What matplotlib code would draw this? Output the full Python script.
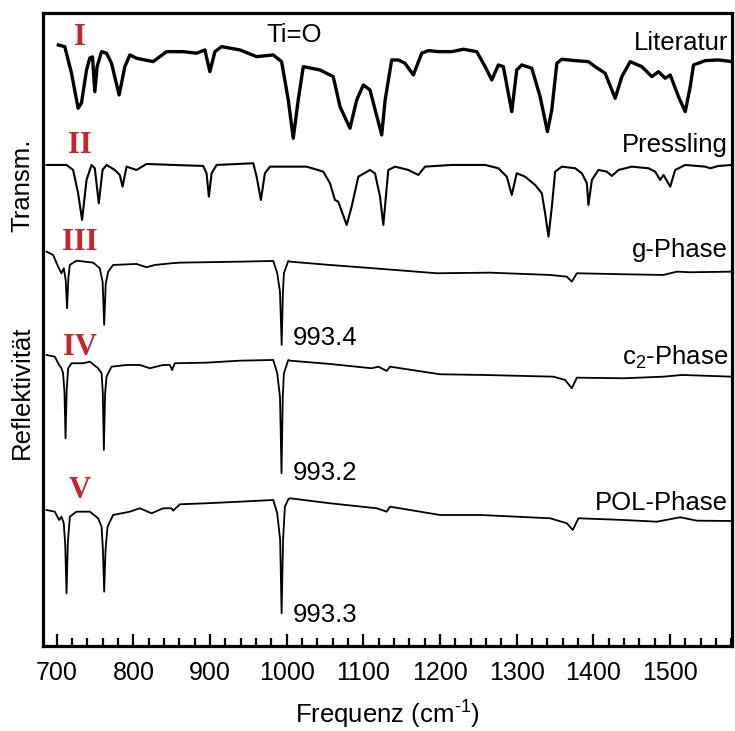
import numpy as np
import matplotlib
matplotlib.use("Agg")
import matplotlib.pyplot as plt
from matplotlib.ticker import MultipleLocator

plt.rcParams['font.family'] = ['Liberation Sans', 'DejaVu Sans']
plt.rcParams['mathtext.default'] = 'regular'

# spectra: wavenumber (cm-1) and intensity relative to each trace's level
lit_x = [702, 710.4, 719.2, 727.8, 732.2, 738.8, 743.1, 746.6, 749.6, 752.6, 758.4, 764.9, 771.4,
         781.3, 788.8, 795.3, 804, 825.7, 843.2, 864.9, 882.4, 893.2, 899.7, 906.3, 915, 938.9,
         960.7, 982.4, 993.3, 1002, 1008.5, 1015, 1021.6, 1043.3, 1060.7, 1069.5, 1082.5, 1091.3,
         1099.9, 1108.6, 1123.9, 1128.4, 1136.9, 1145.6, 1154.3, 1165.2, 1176.1, 1184.7, 1197.8,
         1215.3, 1230.4, 1247.9, 1258.8, 1267.5, 1276.1, 1282.6, 1293.6, 1300.1, 1306.7, 1319.7,
         1330.6, 1340.1, 1345.8, 1352.4, 1358.9, 1376.3, 1393.6, 1402.4, 1415.4, 1428.5, 1437.2,
         1448.1, 1463.3, 1476.4, 1485, 1493.7, 1500.3, 1511.1, 1519.9, 1526.4, 1530.7, 1546,
         1563.3, 1580.8]
lit_y = [5, 3.3, -23.3, -58.3, -53, -20, -8, -7, -41.7, -16.7, -1.7, -3.3, -13.3,
         -45, -16.7, -5, -8.3, -11.7, -1.7, -1.7, -3.3, 0, -21.7, -1.7, 3.3, 0,
         -6.7, -5, -11.7, -50, -88.3, -50, -16.7, -20, -26.7, -56.7, -78.3, -50,
         -35, -40, -85, -50, -10, -10, -13.3, -25, -3.3, -0.7, -1.7,
         -1.7, 0.7, -1.7, -16.7, -30, -15, -16.7, -61.7, -20, -15, -18.3,
         -46.7, -81.7, -60, -13.3, -9.3, -10.7, -11.7, -16.7, -23.3, -48.3, -26.7,
         -11.7, -16.7, -26.7, -21.7, -28.3, -25, -46.7, -61.7, -36.7, -15, -10.7,
         -10, -11.7]

press_x = [686.6, 712.7, 721.3, 727.8, 733, 738.8, 745.3, 749.6, 754.8, 759.7, 764.9, 775.7, 782.2,
           785.8, 791, 804, 817.1, 851.8, 891, 895.4, 898.4, 902, 908.5, 956.3, 960.7, 966.3,
           971.5, 978.1, 1026, 1047.7, 1056.4, 1062.9, 1067.2, 1078.2, 1084.7, 1093.4, 1108.6,
           1115.1, 1121.7, 1126, 1132.5, 1141.3, 1158.6, 1171.7, 1180.4, 1215.3, 1258.8, 1276.1,
           1287.1, 1293.6, 1300.1, 1311, 1324.1, 1332.8, 1337.1, 1341.5, 1345.9, 1350.2, 1358.9,
           1376.3, 1385, 1391.6, 1393.6, 1398.1, 1406.7, 1417.6, 1424.1, 1432.8, 1450.3, 1471.9,
           1480.7, 1487.2, 1491.5, 1500.3, 1506.8, 1519.9, 1546, 1552.5, 1563.3, 1580.8]
press_y = [0, 0, -5, -28.3, -55, -15, 0, -3.3, -38.3, -5, 0, -5, -10,
           -21.7, -1.7, -5, 1, 0, -1, -8.3, -31.7, -8.3, 0, 1.7, -11.7, -35,
           -8.3, -1.7, -1.7, -6.7, -18.3, -35, -36.7, -60, -41.7, -11.7, -5,
           -8.3, -31.7, -60, -5, -1.7, -5, -10, -1.7, 0, 0, -3.3,
           -11.7, -30, -8.3, -11.7, -20, -28.3, -48.3, -71.7, -41.7, -6.7, -1.7,
           -3.3, -8.3, -18.3, -40, -15, -5, -6.7, -11, -5, -1.7, -3.3,
           -6.7, -15, -10, -21.7, -5, 0, -1.7, -3.3, -1, 0]

g_x = [686.6, 695.2, 701.7, 706.1, 709.1, 711.6, 713.4, 715.2, 717, 725.7, 747.4, 756.1, 759.8,
       761.8, 763.8, 767, 773.5, 804, 817.1, 827.9, 849.7, 860.6, 938.9, 982.4, 987.6, 991.2,
       993.4, 995, 996.3, 1002, 1004.2, 1056.4, 1112.9, 1195.7, 1265.3, 1343.6, 1365.4, 1371.9,
       1378.5, 1439.3, 1491.5, 1509, 1526.4, 1581]
g_y = [10.3, 7, -4.7, -11.3, -6.3, -18, -46.3, -15, -3, 1.3, -0.7, -6.3, -20,
       -63, -22, -9.7, -3, -2, -5.3, -3, -1.3, -0.7, 0.3, 1, -11.3, -30,
       -83, -30, -11.3, 1, 0.3, -3, -6.3, -11.3, -10.7, -13, -14.7, -19.7,
       -11.3, -12.3, -13, -9.7, -10.3, -9.7]

c2_x = [686.6, 697.4, 703, 706.1, 708.2, 710, 711.4, 712.9, 714.8, 719.2, 734.3, 743.1, 753.9,
        758.4, 760, 761.4, 763, 764.9, 771.4, 791, 808.4, 821.4, 838.8, 847.5, 850.5, 854,
        895.4, 938.9, 982.4, 987.6, 991.2, 993.2, 994.8, 996.3, 1002, 1004.2, 1056.4, 1110.8,
        1119.5, 1130.4, 1134.7, 1200, 1256.5, 1347.9, 1363.2, 1371.9, 1378.5, 1439.3, 1491.5,
        1515.5, 1581]
c2_y = [7, 5.3, -3, -6.3, -11.3, -30, -76.3, -28, -6.3, -1.3, -1.3, 0.3, -6.3,
        -11.3, -30, -88, -32, -14.7, -4.7, -3, -3, -6.3, -3, -3, -8, -1.3,
        -0.7, 1.3, 2, -11.3, -35, -111.3, -35, -11.3, 2, 1.3, -2, -6.3,
        -4.7, -9, -4.7, -12.3, -13, -14.7, -18, -26.3, -15.7, -16.3, -14.7,
        -13, -14.7]

pol_x = [686.6, 697.4, 703, 706.1, 709.1, 711, 712.7, 714.4, 717, 725.7, 743.1, 753.9, 758.4,
         760.2, 761.8, 763.6, 766.2, 773.5, 795.3, 808.4, 823.6, 838.8, 849.7, 851.8, 860.6,
         895.4, 938.9, 982.4, 987.6, 991.4, 993.3, 995.2, 997.6, 1002, 1004.2, 1056.4, 1117.4,
         1130.4, 1134.7, 1200, 1252.2, 1343.6, 1365.4, 1373.2, 1380.6, 1439.3, 1482.9, 1513.3,
         1535.1, 1581]
pol_y = [0, -1.7, -10, -6.7, -13.3, -35, -83.3, -33, -6.7, -1.7, -1.7, -8.3, -16.7,
         -40, -81.7, -40, -16.7, -5, -1.7, 1.7, -3.3, 1.7, 1.7, -0.7, 5.7,
         6.7, 8.3, 10, -3.3, -30, -103.3, -30, 3.3, 10.7, 11.7, 6.7, 1.7,
         -1.7, 3.3, -5, -5, -8.3, -13.3, -20, -8.3, -10, -11.7, -7.3,
         -10.7, -11]

spectra = [(lit_x, lit_y), (press_x, press_y), (g_x, g_y), (c2_x, c2_y), (pol_x, pol_y)]
names = ["Literatur", "Pressling", "g-Phase", "c$_2$-Phase", "POL-Phase"]
numerals = ["I", "II", "III", "IV", "V"]
peak_labels = ["993.4", "993.2", "993.3"]

# layout of the stack
offsets = [596, 481, 384, 284, 136]
widths = [2.4, 1.5, 1.3, 1.3, 1.3]
name_y = [596, 494, 389, 281, 136]
num_y = [601, 493, 396, 291, 148]
peak_y = [301, 166, 24]

fig = plt.figure(figsize=(7.35, 7.31), dpi=100)
ax = fig.add_axes([0.0585, 0.1163, 0.9375, 0.866])

for (xs, ys), off, lw in zip(spectra, offsets, widths):
    ax.plot(xs, np.array(ys) + off, color="black", lw=lw, solid_joinstyle="round")

red = "#c4262b"
for name, ny, num, uy in zip(names, name_y, numerals, num_y):
    ax.text(1576, ny, name, ha="right", va="baseline", fontsize=18.5)
    ax.text(730, uy, num, ha="center", va="baseline", fontsize=22, color=red,
            family="Liberation Serif", fontweight="bold")

for lab, py in zip(peak_labels, peak_y):
    ax.text(1008, py, lab, ha="left", va="baseline", fontsize=18.5)

ax.text(1009, 604, "Ti=O", ha="center", va="baseline", fontsize=18.5)

ax.set_xlim(682, 1581)
ax.set_ylim(0, 633)
ax.set_yticks([])
ax.xaxis.set_major_locator(MultipleLocator(100))
ax.xaxis.set_minor_locator(MultipleLocator(20))
ax.tick_params(axis="x", which="major", direction="in", length=8.5, width=1.6, labelsize=18, pad=11)
ax.tick_params(axis="x", which="minor", direction="in", length=5.5, width=1.6)
for sp in ax.spines.values():
    sp.set_linewidth(2.3)

ax.set_xlabel("Frequenz (cm$^{\u20101}$)", fontsize=18.5, labelpad=10)
fig.text(0.030, 1 - 185 / 731, "Transm.", rotation=90, ha="center", va="center", fontsize=18.5)
fig.text(0.030, 1 - 392 / 731, "Reflektivität", rotation=90, ha="center", va="center", fontsize=18.5)

fig.savefig("out.png", dpi=100)
